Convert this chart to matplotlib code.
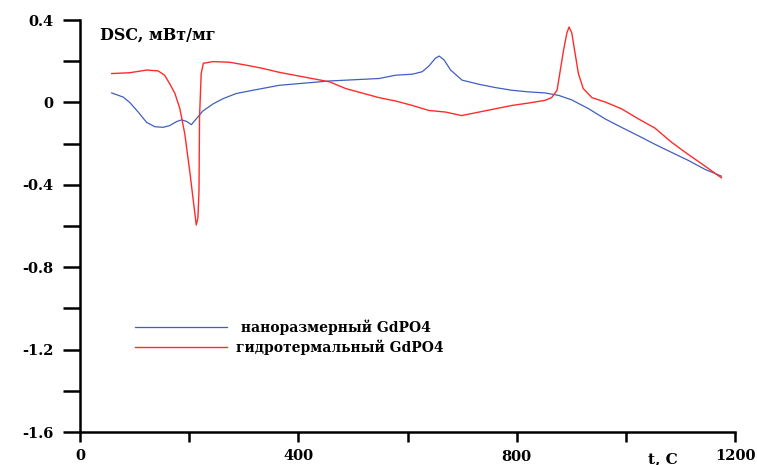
import matplotlib
matplotlib.use("Agg")
import matplotlib.pyplot as plt
from matplotlib.ticker import MultipleLocator
from matplotlib.transforms import ScaledTranslation

# DSC curves: temperature (°C) and heat flow (mW/mg)
nano_t = [58, 79, 91, 107, 122, 137, 152, 164, 177, 186, 195, 204, 213, 225, 244,
          262, 286, 317, 365, 457, 548, 578, 609, 627, 639, 651, 658, 667, 679, 700,
          731, 761, 791, 822, 852, 877, 901, 932, 962, 992, 1023, 1053, 1084, 1114,
          1145, 1175]
nano_dsc = [0.046, 0.026, 0.0, -0.048, -0.097, -0.118, -0.121, -0.113, -0.093, -0.085,
            -0.092, -0.108, -0.080, -0.042, -0.007, 0.018, 0.043, 0.059, 0.083, 0.104,
            0.116, 0.132, 0.137, 0.149, 0.176, 0.214, 0.225, 0.206, 0.157, 0.108,
            0.088, 0.072, 0.059, 0.051, 0.046, 0.034, 0.012, -0.031, -0.080, -0.121,
            -0.162, -0.203, -0.243, -0.281, -0.325, -0.358]

hydro_t = [58, 91, 122, 143, 155, 164, 174, 183, 192, 201, 207, 213, 216, 218, 219,
           222, 226, 244, 274, 304, 335, 365, 457, 487, 548, 578, 609, 639, 670, 699,
           731, 761, 791, 822, 852, 864, 874, 880, 886, 892, 896, 901, 907, 913, 922,
           938, 962, 992, 1023, 1053, 1084, 1114, 1145, 1175]
hydro_dsc = [0.140, 0.144, 0.157, 0.153, 0.132, 0.092, 0.043, -0.031, -0.153, -0.333,
             -0.464, -0.595, -0.562, -0.430, -0.072, 0.140, 0.190, 0.198, 0.195, 0.181,
             0.165, 0.146, 0.100, 0.067, 0.023, 0.007, -0.015, -0.039, -0.047, -0.064,
             -0.047, -0.031, -0.015, -0.003, 0.010, 0.023, 0.059, 0.157, 0.255, 0.337,
             0.366, 0.337, 0.239, 0.141, 0.067, 0.023, 0.002, -0.031, -0.080, -0.124,
             -0.194, -0.252, -0.309, -0.366]

series_labels = [" наноразмерный GdPO4", "гидротермальный GdPO4"]
x_ticks = [0, 400, 800, 1200]
y_ticks = [0.4, 0, -0.4, -0.8, -1.2, -1.6]
y_tick_labels = ["0.4", "0", "-0.4", "-0.8", "-1.2", "-1.6"]

serif = ["DejaVu Serif", "Liberation Serif"]
plt.rcParams["font.family"] = serif

fig = plt.figure(figsize=(7.57, 4.65), dpi=100)
ax = fig.add_axes([80 / 757, 33 / 465, 655 / 757, 412 / 465])

blue = "#3f5fbf"
red = "#ff2b2b"
ln1, = ax.plot(nano_t, nano_dsc, color=blue, lw=0.9)
ln2, = ax.plot(hydro_t, hydro_dsc, color=red, lw=1.0)

ax.set_xlim(0, 1200)
ax.set_ylim(-1.6, 0.4)

for s in ("top", "right"):
    ax.spines[s].set_visible(False)
for s in ("left", "bottom"):
    ax.spines[s].set_linewidth(1.8)
    ax.spines[s].set_color("black")

ax.set_xticks(x_ticks)
ax.set_xticklabels([str(v) for v in x_ticks])
ax.xaxis.set_minor_locator(MultipleLocator(200))
ax.set_yticks(y_ticks)
ax.set_yticklabels(y_tick_labels)
ax.yaxis.set_minor_locator(MultipleLocator(0.2))

ax.tick_params(axis="y", which="both", direction="out", length=12, width=1.8,
               pad=7, labelsize=10.5)
ax.tick_params(axis="x", which="both", direction="out", length=7, width=1.8,
               pad=5, labelsize=10.5)
for lab in ax.get_xticklabels() + ax.get_yticklabels():
    lab.set_fontweight("bold")

# the 800 label sits a little lower than its neighbours
lab800 = ax.get_xticklabels()[2]
lab800.set_transform(lab800.get_transform()
                     + ScaledTranslation(0, -1.5 / 100, fig.dpi_scale_trans))

ax.text(0.03, 0.985, "DSC, мВт/мг", transform=ax.transAxes, fontsize=11.5,
        fontweight="bold", va="top", ha="left")
ax.text(1067, -1.73, "t, C", fontsize=11, fontweight="bold",
        va="center", ha="center", clip_on=False)

leg = ax.legend([ln1, ln2], series_labels, loc="upper left",
                bbox_to_anchor=(0.065, 0.303), frameon=False,
                prop={"family": serif, "weight": "bold", "size": 10},
                handlelength=6.6, handletextpad=0.7, labelspacing=0.3)

fig.savefig("out.png", dpi=100)
